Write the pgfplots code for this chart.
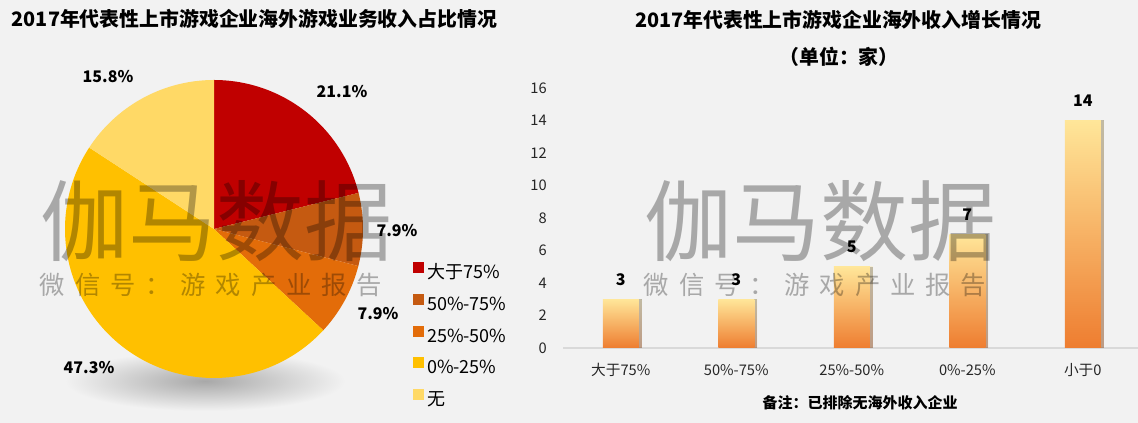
\documentclass[border=0pt]{standalone}
\usepackage{fontspec}
\setmainfont{Noto Sans CJK SC}
\usepackage{pgfplots}
\pgfplotsset{compat=1.18}
\usetikzlibrary{shadows}

\definecolor{bgc}{HTML}{F2F2F2}
\definecolor{cA}{HTML}{C00000}
\definecolor{cB}{HTML}{C55A11}
\definecolor{cC}{HTML}{E36C09}
\definecolor{cD}{HTML}{FFC000}
\definecolor{cE}{HTML}{FFD966}
\definecolor{barTop}{HTML}{FFE699}
\definecolor{barBot}{HTML}{EE7D30}

\newcommand{\wm}[2]{%
  \node[text=black, opacity=0.3, font=\fontsize{66}{70}\selectfont] at (#1,202) {伽马数据};
  \node[text=black, opacity=0.3, font=\fontsize{19}{22}\selectfont\addfontfeature{LetterSpace=39}] at (#2,138) {微信号：游戏产业报告};
}

\pgfplotsset{
  onebar/.style={draw=none, top color=barTop, bottom color=barBot, bar shift=0pt,
    drop shadow={shadow xshift=2.2pt, shadow yshift=0pt, fill=black, opacity=0.3}},
}

\begin{document}
\begin{tikzpicture}[x=0.75pt,y=0.75pt]
\useasboundingbox (0,0) rectangle (1138,423);
\fill[bgc] (0,0) rectangle (1138,423);

% shadow under the pie
\shade[inner color=black!34, outer color=bgc] (205,42) ellipse (140 and 30);

% ---- left: pie, percent of companies, clockwise from 12 o'clock
% axis box: 65..363 px across, 80..378 px down
\begin{axis}[
    at={(48.75pt,33.75pt)}, anchor=south west,
    scale only axis, width=223.5pt, height=223.5pt,
    xmin=-1, xmax=1, ymin=-1, ymax=1,
    hide axis,
    legend style={at={(1.154,0.399)}, anchor=north west, draw=none, fill=none,
        font=\fontsize{13.5}{16}\selectfont, row sep=8.5pt,
        nodes={inner sep=0pt, text height=10pt, text depth=3pt}},
    legend cell align=left,
    legend image code/.code={\fill[#1] (0pt,0.6pt) rectangle (8.25pt,8.85pt);},
]
\addplot[draw=none, fill=cA, domain={90-3.6*21.1}:{90-3.6*0}, samples=60]
    ({cos(x)},{sin(x)}) -- (axis cs:0,0) -- cycle;
\addlegendentry{\,大于75\%}
\addplot[draw=none, fill=cB, domain={90-3.6*29.0}:{90-3.6*21.1}, samples=30]
    ({cos(x)},{sin(x)}) -- (axis cs:0,0) -- cycle;
\addlegendentry{\,50\%-75\%}
\addplot[draw=none, fill=cC, domain={90-3.6*36.9}:{90-3.6*29.0}, samples=30]
    ({cos(x)},{sin(x)}) -- (axis cs:0,0) -- cycle;
\addlegendentry{\,25\%-50\%}
\addplot[draw=none, fill=cD, domain={90-3.6*84.2}:{90-3.6*36.9}, samples=120]
    ({cos(x)},{sin(x)}) -- (axis cs:0,0) -- cycle;
\addlegendentry{\,0\%-25\%}
\addplot[draw=none, fill=cE, domain={90-3.6*100}:{90-3.6*84.2}, samples=50]
    ({cos(x)},{sin(x)}) -- (axis cs:0,0) -- cycle;
\addlegendentry{\,无}
\end{axis}

\begin{scope}[font=\bfseries\fontsize{12}{14}\selectfont]
\node at (342,331) {21.1\%};
\node at (397,192) {7.9\%};
\node at (378,109) {7.9\%};
\node at (89,55) {47.3\%};
\node at (108,346) {15.8\%};
\end{scope}

% ---- right: bars, number of companies
% axis box: 563.. px across, 88..348 px down
\begin{axis}[
    at={(422.25pt,56.25pt)}, anchor=south west,
    scale only axis, width=431.25pt, height=195pt,
    xmin=-0.5, xmax=4.478, ymin=0, ymax=16,
    ybar, bar width=27pt,
    axis x line*=bottom, axis y line*=left,
    x axis line style={draw=black!15, line width=0.8pt},
    y axis line style={draw=none},
    major tick length=0pt,
    xtick={0,1,2,3,4},
    xticklabels={大于75\%, 50\%-75\%, 25\%-50\%, 0\%-25\%, 小于0},
    ytick={0,2,...,16},
    /pgf/number format/assume math mode=true,
    tick label style={font=\fontsize{11}{13}\selectfont, text=black!85},
    yticklabel style={inner sep=0pt, anchor=east, xshift=-12pt},
    xticklabel style={inner sep=0pt, anchor=base, yshift=-21pt},
    nodes near coords,
    every node near coord/.append style={font=\bfseries\fontsize{12}{14}\selectfont,
        anchor=base, inner sep=0pt, yshift=10.5pt, text=black},
]
\addplot[onebar] coordinates {(0,3)};
\addplot[onebar] coordinates {(1,3)};
\addplot[onebar] coordinates {(2,5)};
\addplot[onebar] coordinates {(3,7)};
\addplot[onebar] coordinates {(4,14)};
\end{axis}

% titles and note
\node[anchor=west, font=\bfseries\fontsize{14.9}{17}\selectfont] at (7,404)
    {2017年代表性上市游戏企业海外游戏业务收入占比情况};
\node[font=\bfseries\fontsize{14.9}{17}\selectfont] at (838,403)
    {2017年代表性上市游戏企业海外收入增长情况};
\node[font=\bfseries\fontsize{14.9}{17}\selectfont] at (839,366) {（单位：家）};
\node[font=\bfseries\fontsize{11.25}{13}\selectfont] at (860,20) {备注：已排除无海外收入企业};

% watermark
\wm{216}{211}
\wm{820}{815}
\end{tikzpicture}
\end{document}
